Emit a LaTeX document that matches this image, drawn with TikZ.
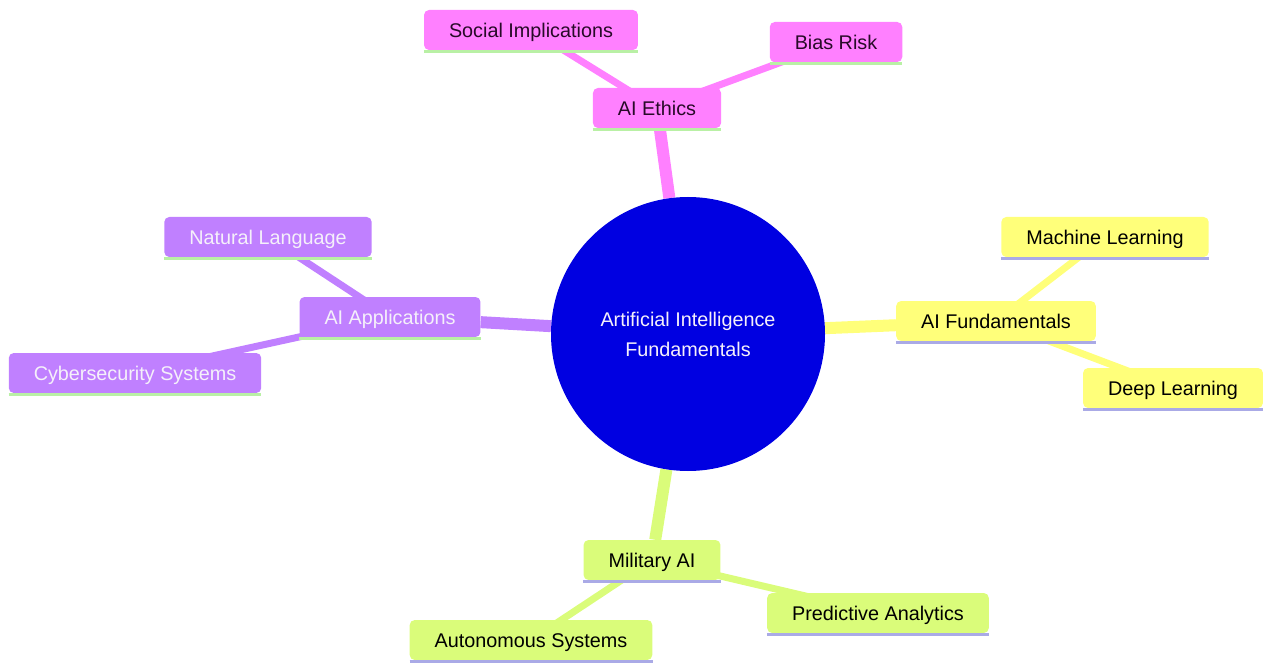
\documentclass[tikz,border=0pt]{standalone}
\usepackage{fontspec}
\setmainfont{Liberation Sans}
\usetikzlibrary{backgrounds}
\definecolor{pinkc}{RGB}{255,128,255}
\definecolor{purplec}{RGB}{192,128,255}
\definecolor{yellowc}{RGB}{255,255,122}
\definecolor{greenc}{RGB}{218,252,122}
\definecolor{lgreen}{RGB}{185,240,165}
\definecolor{lav}{RGB}{170,170,230}
\definecolor{hubblue}{RGB}{0,0,225}
\definecolor{darktext}{RGB}{40,10,40}
\definecolor{lighttext}{RGB}{245,240,250}
\tikzset{
  mm/.style={rectangle, rounded corners=5pt, inner xsep=25pt, inner ysep=0pt,
    minimum height=40pt, text height=18.4pt, text depth=4.2pt,
    font=\fontsize{19.8}{24}\selectfont},
  ethics/.style={mm, fill=pinkc, text=darktext},
  apps/.style={mm, fill=purplec, text=lighttext},
  fund/.style={mm, fill=yellowc, text=black},
  mil/.style={mm, fill=greenc, text=black},
  hub/.style={circle, fill=hubblue, minimum size=274pt, inner sep=0pt, align=center,
    text=lighttext, font=\fontsize{19.8}{30}\selectfont},
  edgeA/.style={line width=12pt},
  edgeB/.style={line width=7pt},
  baseline/.style={line width=3pt}
}
\begin{document}
\begin{tikzpicture}[x=1pt,y=-1pt]
\useasboundingbox (0,0) rectangle (1264,663);
% hub
\node[hub] (c) at (688,334) {Artificial Intelligence\\Fundamentals};
% ethics
\node[ethics] (eth) at (657,108) {AI Ethics};
\node[ethics] (soc) at (531,30) {Social Implications};
\node[ethics] (bias) at (836,42) {Bias Risk};
% applications
\node[apps] (app) at (390,317) {AI Applications};
\node[apps] (nat) at (268,237) {Natural Language};
\node[apps] (cyb) at (135,373) {Cybersecurity Systems};
% fundamentals
\node[fund] (fun) at (996,321) {AI Fundamentals};
\node[fund] (ml) at (1105,237) {Machine Learning};
\node[fund] (dl) at (1173,388) {Deep Learning};
% military
\node[mil] (mil) at (652,560) {Military AI};
\node[mil] (pa) at (878,613) {Predictive Analytics};
\node[mil] (as) at (531,640) {Autonomous Systems};
% bottom lines
\foreach \n/\col in {eth/lgreen,soc/lgreen,bias/lgreen,app/lgreen,nat/lgreen,cyb/lgreen,
  fun/lav,ml/lav,dl/lav,mil/lav,pa/lav,as/lav}{
  \draw[baseline,\col] ([yshift=-1pt]\n.south west) -- ([yshift=-1pt]\n.south east);
}
\begin{pgfonlayer}{background}
\draw[edgeA,pinkc] (c) -- (eth);
\draw[edgeA,purplec] (c) -- (app);
\draw[edgeA,yellowc] (c) -- (fun);
\draw[edgeA,greenc] (c) -- (mil);
\draw[edgeB,pinkc] (eth.center) -- (soc.center);
\draw[edgeB,pinkc] (eth.center) -- (bias.center);
\draw[edgeB,purplec] (app.center) -- (nat.center);
\draw[edgeB,purplec] (app.center) -- (cyb.center);
\draw[edgeB,yellowc] (fun.center) -- (ml.center);
\draw[edgeB,yellowc] (fun.center) -- (dl.center);
\draw[edgeB,greenc] (mil.center) -- (pa.center);
\draw[edgeB,greenc] (mil.center) -- (as.center);
\end{pgfonlayer}
\end{tikzpicture}
\end{document}
